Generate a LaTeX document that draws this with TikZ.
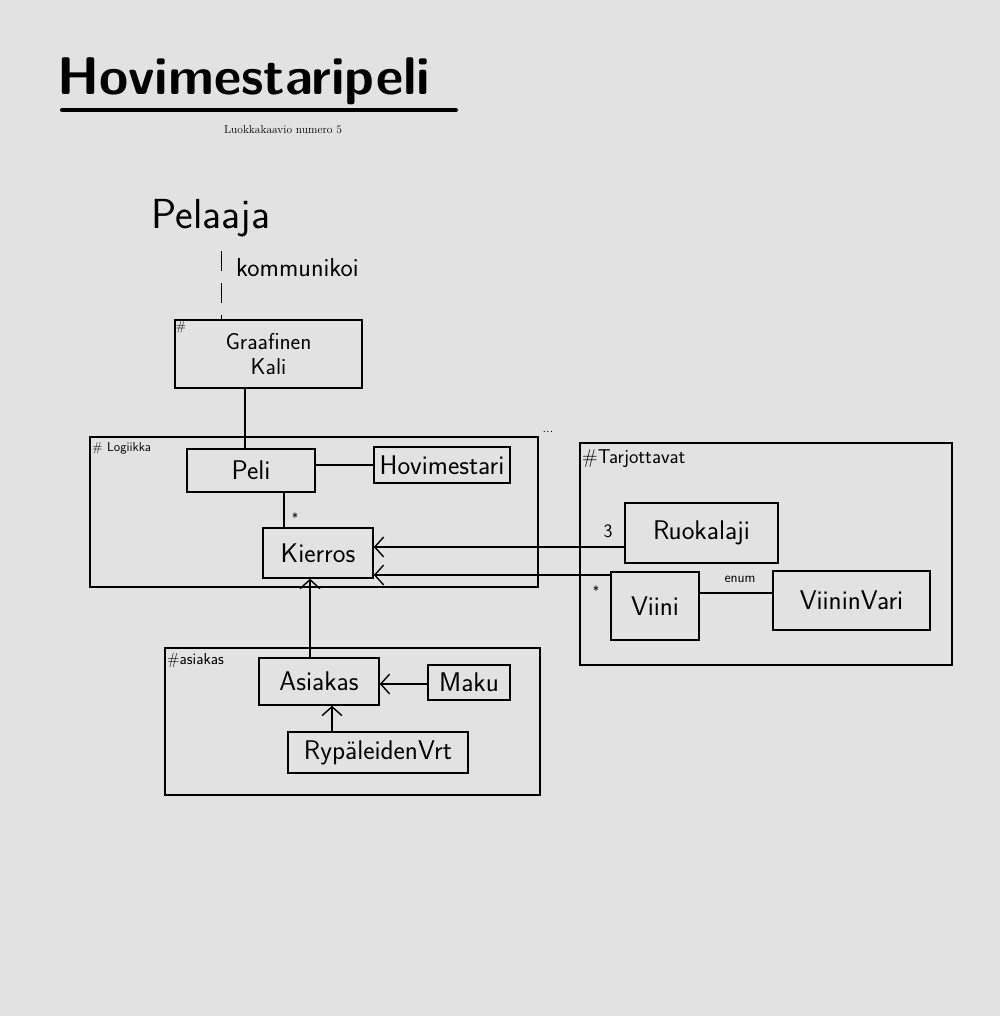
\documentclass[tikz,border=0pt]{standalone}
\usetikzlibrary{arrows.meta}
\definecolor{bg}{HTML}{E2E2E2}
\begin{document}
\begin{tikzpicture}[x=1pt,y=-1pt,
  hand/.style={font=\sffamily\fontsize{22}{24}\selectfont, inner sep=0pt},
  small/.style={font=\sffamily\fontsize{13}{15}\selectfont, inner sep=0pt},
  cls/.style={draw, line width=1.5pt, inner sep=2pt, font=\sffamily\fontsize{27}{29}\selectfont},
  pkg/.style={draw, line width=1.5pt, inner sep=0pt},
  conn/.style={line width=1.4pt},
  arr/.style={line width=1.4pt, -{Straight Barb[length=9pt,width=20pt,line width=1.4pt]}}]
\fill[bg] (0,0) rectangle (1000,1016);
\useasboundingbox (0,0) rectangle (1000,1016);

% title
\node[font=\sffamily\bfseries\fontsize{53}{56}\selectfont, anchor=base west, inner sep=0pt] (title) at (57,95) {Hovimestaripeli};
\draw[line width=4pt, line cap=round] (62,110) -- (456,110);
\node[font=\rmfamily\fontsize{11.5}{13}\selectfont] (sub) at (283,130) {Luokkakaavio numero 5};

% actor
\node[hand, font=\sffamily\fontsize{42}{44}\selectfont] (pelaaja) at (211,218) {Pelaaja};
\node[small, anchor=west, font=\sffamily\fontsize{26}{28}\selectfont] (komm) at (236,268) {kommunikoi};

% Graafinen Kali
\node[cls, minimum width=187, minimum height=68, align=center, font=\sffamily\fontsize{23}{25}\selectfont] (graaf) at (268.5,354) {Graafinen\\Kali};
\node[small] (graafhash) at (181,327) {\#};
\draw[conn, dash pattern=on 20pt off 12pt] ([xshift=47pt,yshift=-14pt]graaf.north west |- pelaaja.south) -- ([xshift=47pt]graaf.north west);

% Logiikka package
\node[pkg, minimum width=448, minimum height=150] (logiikka) at (314,512) {};
\node[small, anchor=west] (logl) at (92,448) {\# Logiikka};
\node[small] (dots) at (548,432) {...};

\node[cls, minimum width=128, minimum height=43] (peli) at (251,470.5) {Peli};
\node[cls, minimum width=136, minimum height=36] (hovi) at (442,465) {Hovimestari};
\node[cls, minimum width=110, minimum height=50] (kierros) at (318,553) {Kierros};

\draw[conn] (graaf.south -| 245,0) -- (peli.north -| 245,0);
\draw[conn] (peli.east |- 0,465) -- (hovi.west |- 0,465);
\draw[conn] (peli.south -| 284,0) -- (kierros.north -| 284,0);
\node[small] (star1) at (295,518) {*};

% Tarjottavat package
\node[pkg, minimum width=372, minimum height=222] (tarj) at (766,554) {};
\node[small, anchor=west, font=\sffamily\fontsize{20}{22}\selectfont] (tarjl) at (582,459) {\#Tarjottavat};

\node[cls, minimum width=153, minimum height=60] (ruoka) at (701.5,533) {Ruokalaji};
\node[cls, minimum width=88, minimum height=68] (viini) at (655,606) {Viini};
\node[cls, minimum width=157, minimum height=59] (vari) at (851.5,600.5) {ViininVari};
\node[hand, font=\sffamily\fontsize{19}{21}\selectfont] (three) at (608,531) {3};
\node[small] (star2) at (596,591) {*};
\draw[conn] (viini.east |- 0,593) -- (vari.west |- 0,593);
\node[small, font=\sffamily\fontsize{14}{16}\selectfont] (enum) at (740,579) {enum};

\draw[arr] (ruoka.west |- 0,547) -- (kierros.east |- 0,547);
\draw[arr] (viini.west |- 0,575) -- (kierros.east |- 0,575);

% Asiakas package
\node[pkg, minimum width=375, minimum height=147] (asiakpkg) at (352.5,721.5) {};
\node[small, anchor=west, font=\sffamily\fontsize{16}{18}\selectfont] (asl) at (167,661) {\#asiakas};

\node[cls, minimum width=120, minimum height=47] (asiakas) at (319,681.5) {Asiakas};
\node[cls, minimum width=82, minimum height=35] (maku) at (469,682.5) {Maku};
\node[cls, minimum width=180, minimum height=41] (rypa) at (378,752.5) {RypäleidenVrt};

\draw[arr] (maku.west |- 0,684) -- (asiakas.east |- 0,684);
\draw[arr] (rypa.north -| 332,0) -- (asiakas.south -| 332,0);
\draw[arr] (asiakas.north -| 310,0) -- (kierros.south -| 310,0);
\end{tikzpicture}
\end{document}
